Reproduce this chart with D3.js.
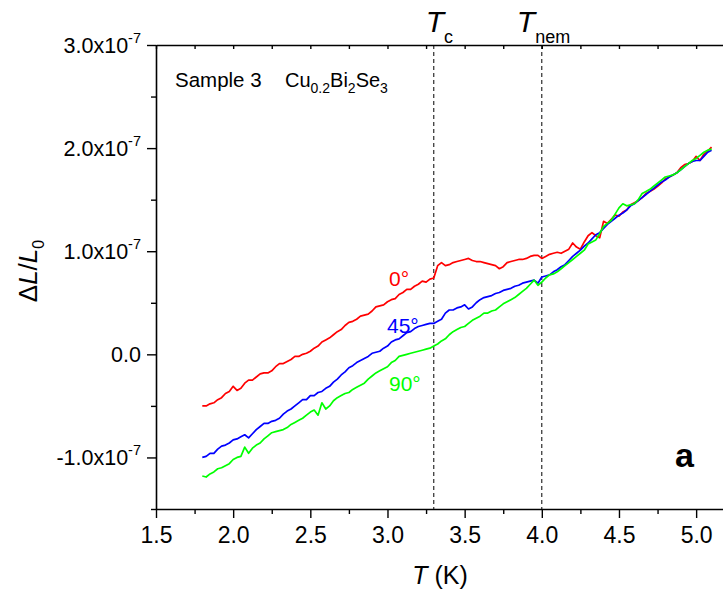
<!DOCTYPE html>
<html>
<head>
<meta charset="utf-8">
<script src="https://cdn.jsdelivr.net/npm/d3@7/dist/d3.min.js"></script>
<style>
    body { margin: 0; background: #fff; }
    svg { display: block; }
    text { font-family: Arial, "Liberation Sans", sans-serif; fill: #000; }
</style>
</head>
<body>
<svg width="723" height="593"></svg>
<script>
// Temperature grid (K)
const temps = [
    1.800, 1.825, 1.850, 1.875, 1.900, 1.925, 1.950, 1.975, 2.000, 2.025,
    2.050, 2.075, 2.100, 2.125, 2.150, 2.175, 2.200, 2.225, 2.250, 2.275,
    2.300, 2.325, 2.350, 2.375, 2.400, 2.425, 2.450, 2.475, 2.500, 2.525,
    2.550, 2.575, 2.600, 2.625, 2.650, 2.675, 2.700, 2.725, 2.750, 2.775,
    2.800, 2.825, 2.850, 2.875, 2.900, 2.925, 2.950, 2.975, 3.000, 3.025,
    3.050, 3.075, 3.100, 3.125, 3.150, 3.175, 3.200, 3.225, 3.250, 3.275,
    3.300, 3.325, 3.350, 3.375, 3.400, 3.425, 3.450, 3.475, 3.500, 3.525,
    3.550, 3.575, 3.600, 3.625, 3.650, 3.675, 3.700, 3.725, 3.750, 3.775,
    3.800, 3.825, 3.850, 3.875, 3.900, 3.925, 3.950, 3.975, 4.000, 4.025,
    4.050, 4.075, 4.100, 4.125, 4.150, 4.175, 4.200, 4.225, 4.250, 4.275,
    4.300, 4.325, 4.350, 4.375, 4.400, 4.425, 4.450, 4.475, 4.500, 4.525,
    4.550, 4.575, 4.600, 4.625, 4.650, 4.675, 4.700, 4.725, 4.750, 4.775,
    4.800, 4.825, 4.850, 4.875, 4.900, 4.925, 4.950, 4.975, 5.000, 5.025,
    5.050, 5.075, 5.100];

// dL/L0 in units of 1e-7
const deg0 = [
    -0.50, -0.50, -0.48, -0.47, -0.44, -0.42, -0.38, -0.36, -0.31, -0.35,
    -0.33, -0.28, -0.25, -0.25, -0.22, -0.19, -0.18, -0.18, -0.16, -0.12,
    -0.09, -0.09, -0.07, -0.05, -0.02, -0.02, 0.00, 0.01, 0.03, 0.06,
    0.08, 0.12, 0.14, 0.16, 0.19, 0.22, 0.24, 0.28, 0.31, 0.32,
    0.34, 0.37, 0.38, 0.39, 0.42, 0.46, 0.47, 0.48, 0.51, 0.53,
    0.54, 0.58, 0.60, 0.63, 0.63, 0.66, 0.68, 0.71, 0.70, 0.73,
    0.74, 0.86, 0.89, 0.86, 0.87, 0.89, 0.90, 0.91, 0.92, 0.93,
    0.91, 0.90, 0.90, 0.89, 0.88, 0.87, 0.86, 0.83, 0.85, 0.89,
    0.90, 0.91, 0.92, 0.92, 0.93, 0.95, 0.96, 0.96, 0.93, 0.95,
    0.97, 0.98, 0.99, 0.98, 1.00, 1.02, 1.08, 1.04, 1.02, 1.09,
    1.15, 1.18, 1.15, 1.13, 1.29, 1.27, 1.31, 1.35, 1.34, 1.38,
    1.40, 1.45, 1.47, 1.49, 1.52, 1.56, 1.58, 1.60, 1.63, 1.66,
    1.70, 1.72, 1.74, 1.76, 1.81, 1.84, 1.85, 1.87, 1.92, 1.88,
    1.94, 1.97, 2.01];

const deg45 = [
    -1.00, -0.99, -0.96, -0.96, -0.92, -0.89, -0.88, -0.86, -0.83, -0.82,
    -0.80, -0.78, -0.81, -0.77, -0.73, -0.70, -0.67, -0.67, -0.65, -0.64,
    -0.62, -0.58, -0.55, -0.53, -0.50, -0.47, -0.44, -0.44, -0.40, -0.40,
    -0.37, -0.36, -0.33, -0.31, -0.27, -0.24, -0.20, -0.17, -0.13, -0.11,
    -0.08, -0.06, -0.04, -0.02, 0.01, 0.02, 0.03, 0.06, 0.08, 0.12,
    0.14, 0.15, 0.18, 0.21, 0.22, 0.25, 0.27, 0.28, 0.29, 0.30,
    0.30, 0.32, 0.34, 0.40, 0.43, 0.43, 0.45, 0.46, 0.48, 0.44,
    0.46, 0.50, 0.53, 0.55, 0.56, 0.57, 0.59, 0.60, 0.62, 0.63,
    0.64, 0.66, 0.67, 0.69, 0.70, 0.71, 0.72, 0.69, 0.75, 0.76,
    0.77, 0.80, 0.82, 0.85, 0.87, 0.91, 0.95, 0.98, 1.01, 1.05,
    1.08, 1.12, 1.16, 1.18, 1.22, 1.26, 1.29, 1.32, 1.35, 1.37,
    1.40, 1.44, 1.46, 1.49, 1.52, 1.55, 1.58, 1.61, 1.64, 1.67,
    1.69, 1.72, 1.74, 1.76, 1.79, 1.82, 1.85, 1.87, 1.88, 1.88,
    1.92, 1.96, 1.98];

const deg90 = [
    -1.18, -1.19, -1.16, -1.14, -1.11, -1.10, -1.08, -1.06, -1.02, -1.00,
    -0.99, -0.90, -0.96, -0.91, -0.88, -0.86, -0.82, -0.79, -0.76, -0.75,
    -0.74, -0.73, -0.71, -0.68, -0.66, -0.64, -0.62, -0.59, -0.56, -0.54,
    -0.59, -0.47, -0.53, -0.50, -0.45, -0.42, -0.40, -0.38, -0.37, -0.34,
    -0.32, -0.30, -0.28, -0.24, -0.21, -0.18, -0.16, -0.14, -0.12, -0.08,
    -0.06, -0.02, -0.01, 0.00, 0.01, 0.02, 0.03, 0.04, 0.05, 0.06,
    0.08, 0.10, 0.13, 0.15, 0.19, 0.22, 0.24, 0.26, 0.27, 0.30,
    0.33, 0.35, 0.37, 0.40, 0.40, 0.42, 0.43, 0.46, 0.49, 0.51,
    0.53, 0.55, 0.58, 0.61, 0.64, 0.68, 0.72, 0.67, 0.70, 0.74,
    0.77, 0.78, 0.80, 0.83, 0.86, 0.89, 0.92, 0.95, 0.98, 1.01,
    1.07, 1.09, 1.11, 1.17, 1.24, 1.27, 1.30, 1.36, 1.42, 1.46,
    1.44, 1.45, 1.46, 1.50, 1.56, 1.58, 1.60, 1.63, 1.66, 1.69,
    1.72, 1.73, 1.74, 1.76, 1.79, 1.82, 1.85, 1.88, 1.90, 1.93,
    1.96, 1.98, 1.99];

const seriesNames = ["0°", "45°", "90°"];
const seriesColors = ["#ff0000", "#0000ff", "#00ff00"];

// Axis ticks
const xMajor = [1.5, 2.0, 2.5, 3.0, 3.5, 4.0, 4.5, 5.0];
const xMinor = [1.75, 2.25, 2.75, 3.25, 3.75, 4.25, 4.75, 5.25];
const yMajor = [-1, 0, 1, 2, 3];
const yMinor = [-1.5, -0.5, 0.5, 1.5, 2.5];
const yTickText = ["-1.0x10", "0.0", "1.0x10", "2.0x10", "3.0x10"];
const yTickExp = ["-7", "", "-7", "-7", "-7"];

// Transition temperatures
const markers = [{ t: 3.3, main: "T", sub: "c" }, { t: 4.0, main: "T", sub: "nem" }];

window.onload = init;

function init() {
    const svg = d3.select("svg");

    const left = 156, top = 45, bottom = 509;

    const x = d3.scaleLinear().domain([1.5, 5.2]).range([left, 727]);
    const y = d3.scaleLinear().domain([-1.5, 3.0]).range([bottom, top]);

    // bottom axis
    const gx = svg.append("g").attr("transform", `translate(0,${bottom})`);
    gx.call(d3.axisBottom(x).tickValues(xMajor).tickSize(9).tickSizeOuter(0).tickFormat(d3.format(".1f")));
    gx.append("g").call(d3.axisBottom(x).tickValues(xMinor).tickSize(5).tickSizeOuter(0).tickFormat(""))
        .select(".domain").remove();
    gx.selectAll("text").attr("y", 18).style("font-size", "23px").style("font-family", "Arial, 'Liberation Sans', sans-serif");

    // top axis (ticks pointing in)
    const gt = svg.append("g").attr("transform", `translate(0,${top})`);
    gt.call(d3.axisTop(x).tickValues(xMajor.concat(xMinor)).tickSize(-4).tickSizeOuter(0).tickFormat(""));

    // left axis
    const gy = svg.append("g").attr("transform", `translate(${left},0)`);
    gy.call(d3.axisLeft(y).tickValues(yMajor).tickSize(9).tickSizeOuter(0).tickFormat(""));
    gy.append("g").call(d3.axisLeft(y).tickValues(yMinor).tickSize(5).tickSizeOuter(0).tickFormat(""))
        .select(".domain").remove();

    svg.selectAll(".domain").attr("stroke-width", 1.6);
    svg.selectAll(".tick line").attr("stroke-width", 1.4);

    // y tick labels with exponent
    const yl = svg.append("g").selectAll("text")
        .data(yMajor)
        .join("text")
        .attr("x", 141)
        .attr("y", d => y(d) + 7.5)
        .attr("text-anchor", "end")
        .style("font-size", "21.5px");
    yl.append("tspan").text((d, i) => yTickText[i]);
    yl.append("tspan")
        .attr("dy", -10)
        .style("font-size", "14.5px")
        .text((d, i) => yTickExp[i]);

    // dashed transition lines
    svg.append("g").selectAll("line")
        .data(markers)
        .join("line")
        .attr("x1", d => x(d.t)).attr("x2", d => x(d.t))
        .attr("y1", y(3.0)).attr("y2", y(-1.5))
        .attr("stroke", "#000")
        .attr("stroke-width", 1)
        .attr("stroke-dasharray", "4,3");

    const markerShift = [-8, -25];
    const ml = svg.append("g").selectAll("text")
        .data(markers)
        .join("text")
        .attr("x", (d, i) => x(d.t) + markerShift[i])
        .attr("y", 32);
    ml.append("tspan").style("font-size", "30px").style("font-style", "italic").text(d => d.main);
    ml.append("tspan").attr("dy", 11).style("font-size", "18px").text(d => d.sub);

    // data lines
    const line = d3.line()
        .x((d, i) => x(temps[i]))
        .y(d => y(d));

    svg.append("g").selectAll("path")
        .data([deg0, deg45, deg90])
        .join("path")
        .attr("d", line)
        .attr("fill", "none")
        .attr("stroke", (d, i) => seriesColors[i])
        .attr("stroke-width", 1.7)
        .attr("stroke-linejoin", "round");

    // series labels
    const labelPos = [[389, 286], [387, 333], [389, 391]];
    svg.append("g").selectAll("text")
        .data(seriesNames)
        .join("text")
        .attr("x", (d, i) => labelPos[i][0])
        .attr("y", (d, i) => labelPos[i][1])
        .style("font-size", "21px")
        .style("fill", (d, i) => seriesColors[i])
        .text(d => d);

    // sample annotation
    svg.append("text").attr("x", 175).attr("y", 87).style("font-size", "20.5px").text("Sample 3");
    const cu = svg.append("text").attr("x", 285).attr("y", 87).style("font-size", "20px");
    cu.append("tspan").text("Cu");
    cu.append("tspan").attr("dy", 6).style("font-size", "14px").text("0.2");
    cu.append("tspan").attr("dy", -6).text("Bi");
    cu.append("tspan").attr("dy", 6).style("font-size", "14px").text("2");
    cu.append("tspan").attr("dy", -6).text("Se");
    cu.append("tspan").attr("dy", 6).style("font-size", "14px").text("3");

    // panel letter
    svg.append("text").attr("x", 675).attr("y", 467)
        .style("font-size", "34px").style("font-weight", "bold").text("a");

    // axis titles
    const xt = svg.append("text").attr("x", 440).attr("y", 584)
        .attr("text-anchor", "middle").style("font-size", "25px");
    xt.append("tspan").style("font-style", "italic").text("T");
    xt.append("tspan").text(" (K)");

    const yt = svg.append("text")
        .attr("transform", "translate(37,271) rotate(-90)")
        .attr("text-anchor", "middle")
        .style("font-size", "26px");
    yt.append("tspan").text("Δ");
    yt.append("tspan").style("font-style", "italic").text("L");
    yt.append("tspan").text("/");
    yt.append("tspan").style("font-style", "italic").text("L");
    yt.append("tspan").attr("dy", 7).style("font-size", "16px").text("0");
}
</script>
</body>
</html>
